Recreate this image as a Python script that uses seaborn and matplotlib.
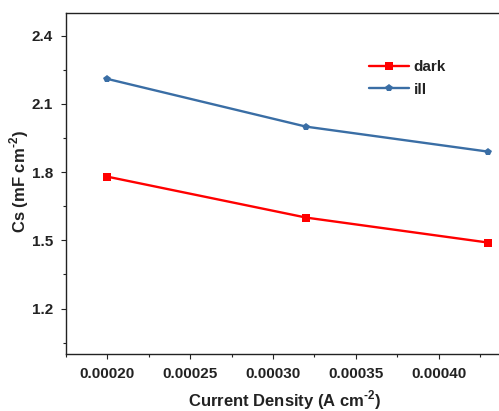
import matplotlib
matplotlib.use("Agg")
import matplotlib.pyplot as plt
import seaborn as sns
import pandas as pd
from matplotlib.ticker import AutoMinorLocator

current_density = [0.00020, 0.00032, 0.00043]
dark = [1.78, 1.60, 1.49]
ill = [2.21, 2.00, 1.89]
series_names = ["dark", "ill"]
x_ticks = [0.00020, 0.00025, 0.00030, 0.00035, 0.00040]
x_tick_labels = ["0.00020", "0.00025", "0.00030", "0.00035", "0.00040"]
y_ticks = [1.2, 1.5, 1.8, 2.1, 2.4]
y_tick_labels = ["1.2", "1.5", "1.8", "2.1", "2.4"]

df = pd.DataFrame({
    "x": current_density * 2,
    "y": dark + ill,
    "series": [series_names[0]] * 3 + [series_names[1]] * 3,
})

sns.set_style("ticks")
plt.rcParams['font.family'] = ['Liberation Sans', 'DejaVu Sans']
plt.rcParams['mathtext.fontset'] = 'custom'
plt.rcParams['mathtext.rm'] = 'Liberation Sans:bold'
plt.rcParams['mathtext.bf'] = 'Liberation Sans:bold'

fig = plt.figure(figsize=(4.99, 4.11), dpi=100)
W, H = 499, 411
left, right, top, bottom = 66, 505, 13, 354
ax = fig.add_axes([left / W, 1 - bottom / H, (right - left) / W, (bottom - top) / H])

palette = {"dark": "#FF0000", "ill": "#3A6EA5"}
markers = {"dark": "s", "ill": "p"}
sns.lineplot(data=df, x="x", y="y", hue="series", style="series",
             palette=palette, markers=markers, dashes=False,
             markersize=6, markeredgewidth=0, linewidth=1.7, ax=ax)

ax.set_xlim(0.000175, 0.00044)
ax.set_ylim(1.0, 2.5)
ax.set_xticks(x_ticks)
ax.set_xticklabels(x_tick_labels)
ax.set_yticks(y_ticks)
ax.set_yticklabels(y_tick_labels)
ax.xaxis.set_minor_locator(AutoMinorLocator(2))
ax.yaxis.set_minor_locator(AutoMinorLocator(2))
ax.tick_params(which="major", direction="out", length=3.5, width=0.8, colors="#222222",
               labelsize=11, pad=6)
ax.tick_params(which="minor", direction="out", length=2, width=0.8, colors="#222222")
for lab in ax.get_xticklabels() + ax.get_yticklabels():
    lab.set_fontweight("bold")
    lab.set_color("#222222")
for s in ax.spines.values():
    s.set_linewidth(1.0)
    s.set_color("#222222")

ax.set_xlabel("Current Density (A cm$^{\\text{-2}}$)", fontsize=12, fontweight="bold",
              color="#222222")
ax.set_ylabel("Cs (mF cm$^{\\text{-2}}$)", fontsize=12, fontweight="bold",
              color="#222222")
ax.xaxis.set_label_coords((285 - left) / (right - left), (bottom - 388) / (bottom - top))
ax.yaxis.set_label_coords((31 - left) / (right - left), (bottom - 182) / (bottom - top))

leg = ax.legend(loc="upper left",
                bbox_to_anchor=((363 - left) / (right - left), (bottom - 54) / (bottom - top)),
                frameon=False, fontsize=11, handlelength=2.6, handletextpad=0.3,
                labelspacing=0.55, borderaxespad=0)
for t in leg.get_texts():
    t.set_fontweight("bold")
    t.set_color("#222222")

fig.savefig("out.png", dpi=100)
